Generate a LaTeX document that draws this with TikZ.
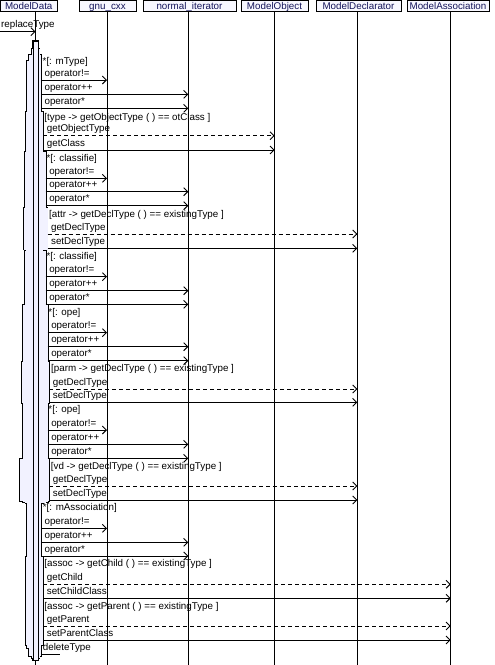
\documentclass[tikz,border=0pt]{standalone}
\usepackage{fontspec}
\setmainfont{Liberation Sans}
\usetikzlibrary{arrows.meta}
\definecolor{actfill}{RGB}{242,242,255}
\definecolor{hdrfill}{RGB}{248,248,255}
\definecolor{hdrtext}{RGB}{20,20,90}
\newcommand{\seqmsg}[6]{%
  \coordinate (s#1) at (#3,#4);
  \draw[#2] (s#1) -- (#5 |- s#1);
  \node[lbl] (t#1) at (#3+3.4,#4-4) {#6};}
\newcommand{\seqguard}[4]{\node[lbl] (#1) at (#2,#3) {#4};}
\begin{document}
\begin{tikzpicture}[x=1pt,y=-1pt,
  font=\fontsize{9.8}{11}\selectfont,
  hdr/.style={draw, fill=hdrfill, line width=0.9pt, text=hdrtext, inner sep=0pt,
    minimum height=10.5pt, text height=7pt, text depth=0.5pt},
  life/.style={line width=0.9pt},
  act/.style={draw, fill=actfill, line width=0.9pt},
  call/.style={line width=0.9pt, -{Straight Barb[length=4pt,width=8pt,line width=0.9pt]}},
  back/.style={call, dash pattern=on 4pt off 3pt},
  plain/.style={line width=0.9pt},
  lbl/.style={anchor=base west, inner sep=0pt},
]
\fill[white] (0,0) rectangle (495,665);
\useasboundingbox (0,0) rectangle (495,665);

% lifelines
\coordinate (mdT) at (35.5,11);   \coordinate (mdB) at (35.5,665);
\coordinate (gnuT) at (107,11);   \coordinate (gnuB) at (107,665);
\coordinate (norT) at (188.3,11); \coordinate (norB) at (188.3,665);
\coordinate (objT) at (274.7,11); \coordinate (objB) at (274.7,665);
\coordinate (decT) at (357.3,11); \coordinate (decB) at (357.3,665);
\coordinate (assT) at (450.7,11); \coordinate (assB) at (450.7,665);
\foreach \n in {md,gnu,nor,obj,dec,ass} \draw[life] (\n T) -- (\n B);

% headers
\node[hdr, minimum width=56.5pt] (md) at (28.75,5.75) {ModelData};
\node[hdr, minimum width=57pt] (gnu) at (107.5,5.75) {gnu\_cxx};
\node[hdr, minimum width=93pt] (nor) at (189.5,5.75) {normal\_iterator};
\node[hdr, minimum width=67pt] (obj) at (274.5,5.75) {ModelObject};
\node[hdr, minimum width=85pt] (dec) at (358.5,5.75) {ModelDeclarator};
\node[hdr, minimum width=82pt] (ass) at (448,5.75) {ModelAssociation};

% activation bars (union outline)
\def\actlist{20/459/49.3/501, 21.7/362/49.3/403, 24/208/47.5/249.5,
  23.3/305/47.7/404, 23.3/404/47.7/502, 24.5/152/45.7/250, 25/251/45.7/502.5,
  25.5/557/43.3/603, 25.5/603/43.3/645, 26.7/501/41/648, 25.8/112/43.3/503,
  26.7/61/41/503, 29.3/55/41/656, 31.5/49/39.5/658, 33/41/38/660}
\foreach \a/\b/\c/\d in \actlist \draw[line width=1.8pt] (\a,\b) rectangle (\c,\d);
\foreach \a/\b/\c/\d in \actlist \fill[actfill] (\a,\b) rectangle (\c,\d);
\draw[act] (33,41) rectangle (38,660);

% incoming call
\coordinate (sin) at (0,31.7);
\draw[call] (sin) -- (mdT |- sin);
\node[lbl] (tin) at (1,27.7) {replaceType};

% mType loop
\seqguard{g1}{42.5}{64.2}{*[: mType]}
\seqmsg{1}{call}{41}{80}{gnuT}{operator!=}
\seqmsg{2}{call}{41}{94.3}{norT}{operator++}
\seqmsg{3}{call}{41}{108.3}{norT}{operator*}
\seqguard{g2}{44.3}{120.2}{[type -> getObjectType ( ) == otClass ]}
\seqmsg{4}{back}{43.3}{135.7}{objT}{getObjectType}
\seqmsg{5}{call}{43.3}{150}{objT}{getClass}
\seqguard{g3}{46.3}{161.8}{*[: classifie]}
\seqmsg{6}{call}{45.7}{178.3}{gnuT}{operator!=}
\seqmsg{7}{call}{45.7}{191.7}{norT}{operator++}
\seqmsg{8}{call}{45.7}{205.7}{norT}{operator*}
\seqguard{g4}{49}{217.8}{[attr -> getDeclType ( ) == existingType ]}
\seqmsg{9}{back}{47.5}{234}{decT}{getDeclType}
\seqmsg{10}{call}{47.5}{248.3}{decT}{setDeclType}
\seqguard{g5}{46.3}{259.5}{*[: classifie]}
\seqmsg{11}{call}{45.7}{276.7}{gnuT}{operator!=}
\seqmsg{12}{call}{45.7}{290.7}{norT}{operator++}
\seqmsg{13}{call}{45.7}{304.3}{norT}{operator*}
\seqguard{g6}{48.3}{315.2}{*[: ope]}
\seqmsg{14}{call}{47.7}{332.7}{gnuT}{operator!=}
\seqmsg{15}{call}{47.7}{346.7}{norT}{operator++}
\seqmsg{16}{call}{47.7}{360.7}{norT}{operator*}
\seqguard{g7}{51}{371.2}{[parm -> getDeclType ( ) == existingType ]}
\seqmsg{17}{back}{49.3}{389}{decT}{getDeclType}
\seqmsg{18}{call}{49.3}{402.3}{decT}{setDeclType}
\seqguard{g8}{48.3}{412.5}{*[: ope]}
\seqmsg{19}{call}{47.7}{430}{gnuT}{operator!=}
\seqmsg{20}{call}{47.7}{444.3}{norT}{operator++}
\seqmsg{21}{call}{47.7}{458.3}{norT}{operator*}
\seqguard{g9}{50.7}{469.2}{[vd -> getDeclType ( ) == existingType ]}
\seqmsg{22}{back}{49.3}{486}{decT}{getDeclType}
\seqmsg{23}{call}{49.3}{500}{decT}{setDeclType}
\seqguard{g10}{42.7}{510.8}{*[: mAssociation]}
\seqmsg{24}{call}{41}{528.3}{gnuT}{operator!=}
\seqmsg{25}{call}{41}{542.3}{norT}{operator++}
\seqmsg{26}{call}{41}{556}{norT}{operator*}
\seqguard{g11}{44.3}{566.8}{[assoc -> getChild ( ) == existingType ]}
\seqmsg{27}{back}{43.3}{584.3}{assT}{getChild}
\seqmsg{28}{call}{43.3}{598.3}{assT}{setChildClass}
\seqguard{g12}{44.3}{609.5}{[assoc -> getParent ( ) == existingType ]}
\seqmsg{29}{back}{43.3}{626}{assT}{getParent}
\seqmsg{30}{call}{43.3}{640}{assT}{setParentClass}

% deleteType
\coordinate (sdel) at (41,654);
\coordinate (edel) at (60,654);
\draw[plain] (sdel) -- (edel);
\node[lbl] (tdel) at (42.7,650.8) {deleteType};
\end{tikzpicture}
\end{document}
